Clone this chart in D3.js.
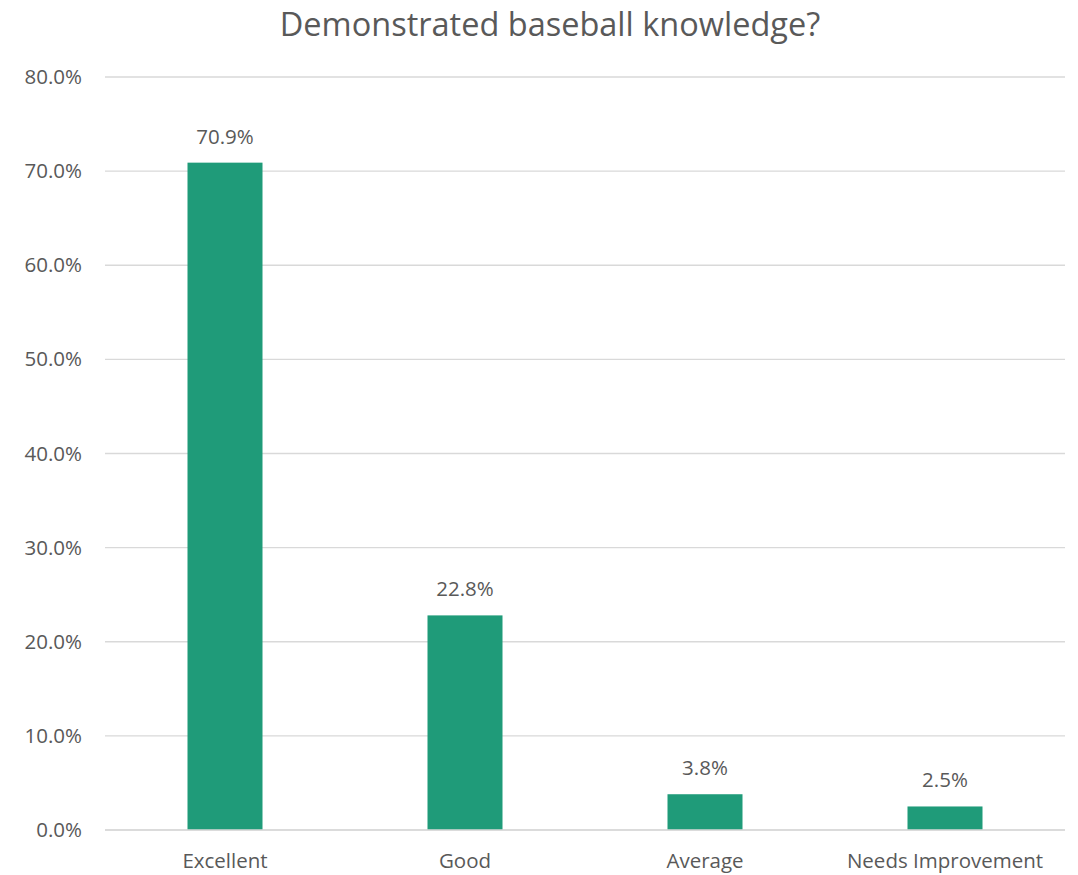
<!DOCTYPE html>
<html><head><meta charset="utf-8">
<script src="https://cdn.jsdelivr.net/npm/d3@7"></script>
<style>body{margin:0;background:#fff;} svg{display:block;} text{font-family:"Open Sans",sans-serif;fill:#595959;}</style>
</head><body><svg id="c" width="1078" height="875"></svg>
<script>
const categories = ["Excellent","Good","Average","Needs Improvement"];
const values = [70.9, 22.8, 3.8, 2.5];
const yTicks = [0,10,20,30,40,50,60,70,80];
const title = "Demonstrated baseball knowledge?";

const svg = d3.select("#c");
const m = {left:105, right:1065, top:77, bottom:830};
const x = d3.scaleBand().domain(categories).range([m.left, m.right]).paddingInner(0.6875).paddingOuter(0.34375);
const y = d3.scaleLinear().domain([0,80]).range([m.bottom, m.top]);
const FS = "20.5px";
const FF = "'Open Sans',sans-serif";

svg.append("g").selectAll("line").data(yTicks).join("line")
  .attr("x1", m.left).attr("x2", m.right)
  .attr("y1", d=>y(d)).attr("y2", d=>y(d))
  .attr("stroke", "#d9d9d9").attr("stroke-width", 1.3);

const yAxis = svg.append("g").attr("transform", `translate(${m.left},0)`)
  .call(d3.axisLeft(y).tickValues(yTicks).tickFormat(d=>d.toFixed(1)+"%").tickSize(0).tickPadding(23));
yAxis.select(".domain").remove();
yAxis.selectAll("text").style("font-size",FS).attr("fill","#595959").style("font-family",FF);

svg.append("g").selectAll("rect").data(values).join("rect")
  .attr("x", (d,i)=>x(categories[i])).attr("width", x.bandwidth())
  .attr("y", d=>y(d)).attr("height", d=>y(0)-y(d))
  .attr("fill", "#1f9b79");

svg.append("line").attr("x1", m.left).attr("x2", m.right).attr("y1", y(0)).attr("y2", y(0))
  .attr("stroke","#d9d9d9").attr("stroke-width",1.5);

const xAxis = svg.append("g").attr("transform", `translate(0,${m.bottom})`)
  .call(d3.axisBottom(x).tickSize(0).tickPadding(23));
xAxis.select(".domain").remove();
xAxis.selectAll("text").style("font-size",FS).attr("fill","#595959").style("font-family",FF);

svg.append("g").selectAll("text").data(values).join("text")
  .attr("x", (d,i)=>x(categories[i]) + x.bandwidth()/2)
  .attr("y", d=>y(d) - 19)
  .attr("text-anchor","middle").style("font-size",FS)
  .text(d=>d.toFixed(1)+"%");

svg.append("text").attr("x", 550).attr("y", 36).attr("text-anchor","middle")
  .style("font-size","32.5px").text(title);
</script></body></html>
